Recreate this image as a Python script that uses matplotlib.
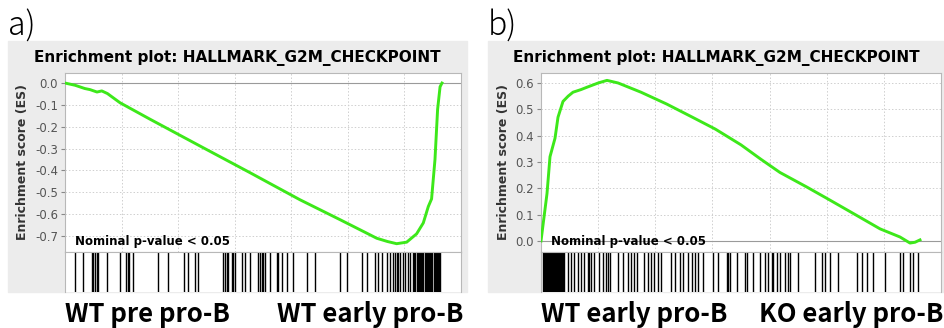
import matplotlib
matplotlib.use("Agg")
import matplotlib.pyplot as plt
from matplotlib.patches import Rectangle

# ranked list length and ES curves
n_genes = 14000

a_rank = [0, 354, 700, 884, 1131, 1300, 1500, 1944, 3000, 4772, 6540, 8307, 9722, 10640,
          11019, 11400, 11725, 12079, 12430, 12667, 12844, 12960, 13080, 13173, 13260, 13327]
a_es = [0.0, -0.01, -0.025, -0.03, -0.041, -0.036, -0.048, -0.09, -0.165, -0.288, -0.41,
        -0.534, -0.625, -0.685, -0.71, -0.725, -0.735, -0.728, -0.69, -0.64, -0.565,
        -0.53, -0.35, -0.12, -0.017, 0.0]

a_hits = [354, 647, 944, 1000, 1061, 1121, 1177, 1474, 1944, 2157, 2217, 2273, 2393,
          3298, 3652, 4207, 4359, 4596, 4712, 5596, 5656, 5717, 5773, 5893, 5950, 6010,
          6246, 6363, 6540, 6833, 6894, 6954, 7010, 7070, 7247, 7484, 7540, 7661, 7837,
          8071, 8545, 8838, 9722, 9959, 10489, 10666, 10959, 11076, 11196, 11373, 11489,
          11606, 11666, 11726, 11782, 11843, 11959, 12019, 12136, 12196,
          12313, 12350, 12390, 12430, 12470, 12510, 12550, 12590, 12630, 12670, 12710,
          12750, 12790, 12830, 12870, 12910, 12950, 12990, 13030, 13070, 13110, 13150,
          13190, 13230, 13256]

b_rank = [0, 210, 315, 490, 595, 770, 950, 1120, 1400, 1610, 2000, 2310, 2700, 3500,
          4400, 5300, 6100, 7000, 7700, 8365, 9300, 10115, 11000, 11865, 12565, 12915,
          13090, 13265]
b_es = [0.0, 0.18, 0.32, 0.39, 0.47, 0.53, 0.55, 0.565, 0.575, 0.584, 0.60, 0.61, 0.60,
        0.565, 0.52, 0.47, 0.425, 0.365, 0.31, 0.26, 0.205, 0.155, 0.10, 0.046, 0.015,
        -0.008, -0.005, 0.004]

b_hits = [60, 95, 130, 165, 200, 235, 270, 305, 340, 375, 410, 445, 480, 515, 550, 585,
          620, 655, 690, 725, 760, 816, 934, 1050, 1166, 1284, 1400, 1516, 1634, 1690,
          1750, 1866, 2040, 2160, 2275, 2334, 2415, 2706, 2880, 3034, 3150, 3266, 3350,
          3616, 3734, 3850, 3966, 4106, 4200, 4550, 4690, 4865, 4980, 5156, 5274, 5390,
          5506, 5680, 6030, 6206, 6500, 6556, 6615, 6850, 7140, 7200, 7430, 7665, 7840,
          7956, 8075, 8130, 8250, 8365, 8540, 8656, 8715, 9006, 9590, 9825, 9940, 10115,
          10406, 11050, 11225, 11400, 11630, 12040, 12565, 12680, 12915, 13030, 13206]

title = "Enrichment plot: HALLMARK_G2M_CHECKPOINT"
panels = [
    dict(tag="a)", rank=a_rank, es=a_es, hits=a_hits, ylim=(-0.773, 0.046),
         yticks=[0.0, -0.1, -0.2, -0.3, -0.4, -0.5, -0.6, -0.7],
         left_lab="WT pre pro-B", right_lab="WT early pro-B"),
    dict(tag="b)", rank=b_rank, es=b_es, hits=b_hits, ylim=(-0.042, 0.638),
         yticks=[0.0, 0.1, 0.2, 0.3, 0.4, 0.5, 0.6],
         left_lab="WT early pro-B", right_lab="KO early pro-B"),
]

W, H = 945, 328
fig = plt.figure(figsize=(W / 100, H / 100), dpi=100)
green = "#3de81a"
grid_c = "#cfcfcf"
frame_c = "#b8b8b8"
big_font = ["Noto Sans CJK JP", "DejaVu Sans"]

# pixel layout per panel: gray box x0, x1 and axes x0, x1
boxes = [(8, 467, 65, 461), (488, 945, 541, 941)]

for p, (gx0, gx1, ax0, ax1) in zip(panels, boxes):
    fig.patches.append(Rectangle((gx0 / W, 1 - 292 / H), (gx1 - gx0) / W, (292 - 41) / H,
                                 transform=fig.transFigure, color="#ececec", zorder=-10))
    fig.text(gx0 / W, 1 - 26 / H, p["tag"], fontsize=23, family=big_font,
             fontweight="light", va="center", ha="left")
    fig.text((gx0 + gx1) / 2 / W, 1 - 58 / H, title, fontsize=11,
             fontweight="bold", ha="center", va="center")

    ax = fig.add_axes([ax0 / W, 1 - 252 / H, (ax1 - ax0) / W, (252 - 73) / H])
    ax.plot(p["rank"], p["es"], color=green, lw=2.1, zorder=3)
    ax.axhline(0, color="#9a9a9a", lw=0.8, zorder=2)
    ax.set_xlim(0, n_genes)
    ax.set_ylim(*p["ylim"])
    ax.set_yticks(p["yticks"])
    ax.set_yticklabels([f"{v:.1f}" for v in p["yticks"]])
    ax.set_xticks(range(0, n_genes + 1, 2000))
    ax.tick_params(axis="x", length=0, labelbottom=False)
    ax.tick_params(axis="y", length=3, color="#888888", labelsize=8.5,
                   labelcolor="#555555", pad=2)
    ax.grid(True, color=grid_c, linestyle=(0, (1.5, 2)), lw=0.7)
    for s in ax.spines.values():
        s.set_color(frame_c)
    ax.set_ylabel("Enrichment score (ES)", fontsize=9, fontweight="bold",
                  color="#333333", labelpad=4)
    ax.text(0.025, 0.02, "Nominal p-value < 0.05", transform=ax.transAxes,
            fontsize=8.5, fontweight="bold", va="bottom", ha="left")

    bx = fig.add_axes([ax0 / W, 1 - 292 / H, (ax1 - ax0) / W, (292 - 252) / H])
    bx.vlines(p["hits"], 0, 1, color="black", lw=1.0)
    bx.set_xlim(0, n_genes)
    bx.set_ylim(0, 1)
    bx.set_xticks([])
    bx.set_yticks([])
    for s in bx.spines.values():
        s.set_color(frame_c)
    bx.spines["bottom"].set_visible(False)

    fig.text(ax0 / W, 1 - 314 / H, p["left_lab"], fontsize=18.5, family=big_font,
             fontweight="bold", ha="left", va="center")
    fig.text((ax1 + 2) / W, 1 - 314 / H, p["right_lab"], fontsize=18.5, family=big_font,
             fontweight="bold", ha="right", va="center")

fig.savefig("out.png", dpi=100)
